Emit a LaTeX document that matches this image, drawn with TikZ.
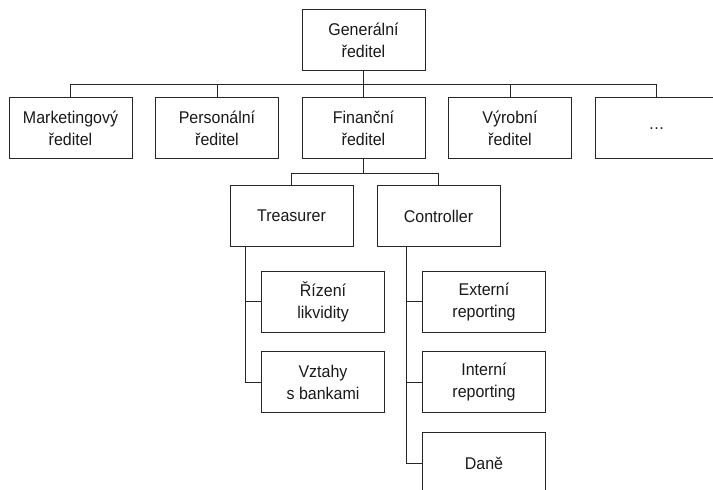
\documentclass[tikz,border=0pt]{standalone}
\usepackage{fontspec}
\setmainfont[FakeStretch=0.94]{Liberation Sans}
\usepackage{tikz}
\usetikzlibrary{positioning}
\tikzset{
    unit/.style={
           rectangle,
           draw=black!85,
           line width=1pt,
           minimum width=123pt,
           minimum height=61pt,
           inner sep=2pt,
           align=center,
           text=black!90,
           font=\fontsize{17}{22}\selectfont,
           },
    link/.style={
           draw=black!85,
           line width=1pt,
           },
}
\begin{document}
\begin{tikzpicture}[x=1pt,y=1pt]
 \useasboundingbox (0,0) rectangle (713,490);
 \clip (0,0) rectangle (713,490);

 \node[unit] (GR) at (363.5,449.5) {Generální\\ředitel};

 \node[unit,
 node distance=88pt,
 below of=GR,
 ] (FR) {Finanční\\ředitel};

 \node[unit,
 node distance=146.5pt,
 left of=FR,
 ] (PR) {Personální\\ředitel};

 \node[unit,
 node distance=146.5pt,
 left of=PR,
 ] (MR) {Marketingový\\ředitel};

 \node[unit,
 node distance=146.5pt,
 right of=FR,
 ] (VR) {Výrobní\\ředitel};

 \node[unit,
 node distance=146.5pt,
 right of=VR,
 ] (DOTS) {…};

 \node[unit,
 node distance=87.5pt,
 below of=FR,
 xshift=-72pt,
 ] (TR) {Treasurer};

 \node[unit,
 node distance=147pt,
 right of=TR,
 ] (CO) {Controller};

 \node[unit,
 node distance=86pt,
 below of=TR,
 xshift=31.5pt,
 ] (RL) {Řízení\\likvidity};

 \node[unit,
 node distance=80.5pt,
 below of=RL,
 ] (VB) {Vztahy\\s bankami};

 \node[unit,
 node distance=86pt,
 below of=CO,
 xshift=45.5pt,
 ] (ER) {Externí\\reporting};

 \node[unit,
 node distance=80.5pt,
 below of=ER,
 ] (IR) {Interní\\reporting};

 \node[unit,
 node distance=81pt,
 below of=IR,
 ] (DA) {Daně};

 % first level
 \draw[link] (GR.south) -- ++(0,-13) -| (MR.north);
 \draw[link] (GR.south) -- ++(0,-13) -| (PR.north);
 \draw[link] (GR.south) -- (FR.north);
 \draw[link] (GR.south) -- ++(0,-13) -| (VR.north);
 \draw[link] (GR.south) -- ++(0,-13) -| (DOTS.north);

 % finance
 \draw[link] (FR.south) -- ++(0,-14) -| (TR.north);
 \draw[link] (FR.south) -- ++(0,-14) -| (CO.north);

 \draw[link] ([xshift=16pt]TR.south west) |- (RL.west);
 \draw[link] ([xshift=16pt]TR.south west) |- (VB.west);

 \draw[link] ([xshift=30pt]CO.south west) |- (ER.west);
 \draw[link] ([xshift=30pt]CO.south west) |- (IR.west);
 \draw[link] ([xshift=30pt]CO.south west) |- (DA.west);
\end{tikzpicture}
\end{document}
